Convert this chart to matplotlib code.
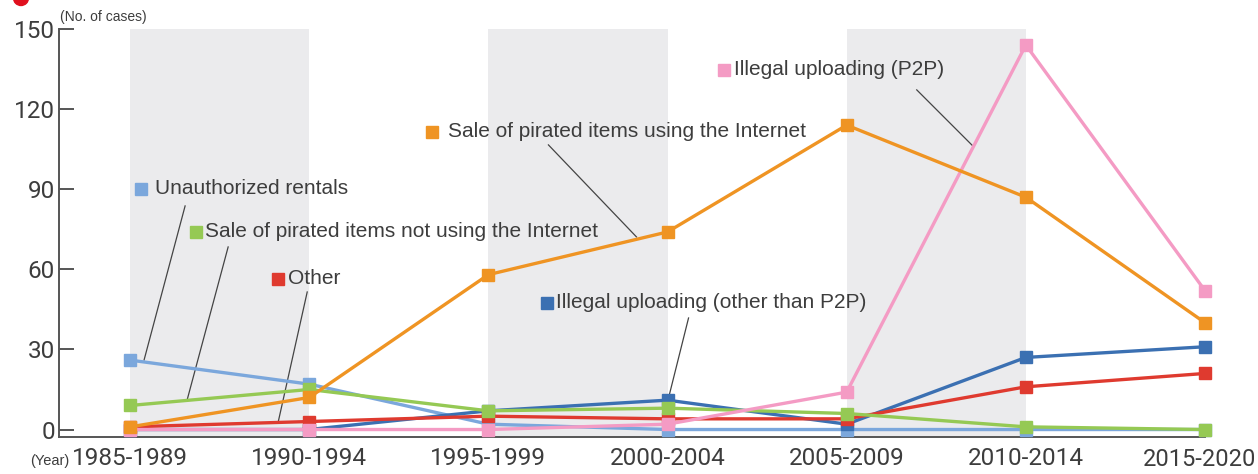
import matplotlib
matplotlib.use("Agg")
import matplotlib.pyplot as plt
from matplotlib.patches import Circle
from matplotlib.transforms import ScaledTranslation

periods = ["1985-1989", "1990-1994", "1995-1999", "2000-2004",
           "2005-2009", "2010-2014", "2015-2020"]

unauthorized_rentals = [26, 17, 2, 0, 0, 0, 0]
upload_other = [0, 0, 7, 11, 2, 27, 31]
other = [1, 3, 5, 4, 4, 16, 21]
sale_offline = [9, 15, 7, 8, 6, 1, 0]
upload_p2p = [0, 0, 0, 2, 14, 144, 52]
sale_online = [1, 12, 58, 74, 114, 87, 40]

y_ticks = [0, 30, 60, 90, 120, 150]

C_RENT = "#7ba7dc"
C_UPOTHER = "#3b70b2"
C_OTHER = "#df3a2f"
C_OFFLINE = "#95c954"
C_P2P = "#f49bc4"
C_ONLINE = "#ef9423"
TXT = "#3d3d3d"

W, H = 1258, 474
fig = plt.figure(figsize=(W / 100, H / 100), dpi=100)
ax = fig.add_axes([59 / W, 1 - 437 / H, (1205 - 59) / W, (437 - 29) / H])

x = list(range(len(periods)))

# shaded bands
for i in (0, 2, 4):
    ax.axvspan(x[i], x[i + 1], color="#ebebed", lw=0, zorder=0)

series = [
    (unauthorized_rentals, C_RENT),
    (upload_other, C_UPOTHER),
    (other, C_OTHER),
    (sale_offline, C_OFFLINE),
    (upload_p2p, C_P2P),
    (sale_online, C_ONLINE),
]
for k, (vals, col) in enumerate(series):
    ax.plot(x, vals, color=col, lw=2.4, marker="s", ms=8.5, mec=col,
            mfc=col, clip_on=False, zorder=3 + k)

ax.set_xlim(-71 / 179, 6)
ax.set_ylim(-2.8, 150)
ax.set_yticks(y_ticks)
ax.set_xticks(x)
# last label is drawn by hand, nudged left so it stays inside the picture
ax.set_xticklabels(periods[:-1] + [""])

narrow = ["Roboto", "DejaVu Sans"]
for lab in ax.get_xticklabels() + ax.get_yticklabels():
    lab.set_family(narrow)
    lab.set_fontsize(17.5)
    lab.set_color(TXT)

ax.text(x[-1], 0, periods[-1], fontsize=17, color=TXT, family=narrow,
        ha="center", va="top",
        transform=ax.get_xaxis_transform() + ScaledTranslation(-0.05, -0.115, fig.dpi_scale_trans))

for s in ("top", "right"):
    ax.spines[s].set_visible(False)
for s in ("left", "bottom"):
    ax.spines[s].set_color("#555555")
    ax.spines[s].set_linewidth(1.4)
ax.tick_params(axis="y", direction="in", length=11, width=1.4, color="#555555", pad=3)
ax.tick_params(axis="x", direction="in", length=6.5, width=1.4, color="#555555", pad=7)

# labels with leader lines (pixel layout -> data coords)
def px(xp, yp):
    return ((xp - 130) / 179, (429.5 - yp) / 2.669)

labels = [
    ("Unauthorized rentals", C_RENT, (141, 189), 14, (185, 206), (144, 360)),
    ("Sale of pirated items not using the Internet", C_OFFLINE, (196, 232), 9, (228, 247), (187, 400)),
    ("Other", C_OTHER, (278, 279), 10, (307, 292), (278, 422)),
    ("Sale of pirated items using the Internet", C_ONLINE, (432, 132), 16, (548, 145), (636, 237)),
    ("Illegal uploading (other than P2P)", C_UPOTHER, (547, 303), 9, (688, 318), (668, 398)),
    ("Illegal uploading (P2P)", C_P2P, (723, 70), 10, (916, 90), (972, 146)),
]
for text, col, sq, gap, l0, l1 in labels:
    a, b = px(*l0)
    c, d = px(*l1)
    ax.plot([a, c], [b, d], color="#444444", lw=0.9, zorder=2)
    sx, sy = px(*sq)
    ax.plot([sx], [sy], marker="s", ms=9, color=col, zorder=10, clip_on=False)
    ax.text(sx + gap / 179, sy, text, fontsize=15, color=TXT,
            family=["Liberation Sans", "DejaVu Sans"], va="center", ha="left", zorder=10)

fig.text(60 / W, 1 - 17 / H, "(No. of cases)", fontsize=10, color=TXT,
         family=["Liberation Sans", "DejaVu Sans"], va="center", ha="left")
fig.text(30 / W, 1 - 461 / H, "(Year)", fontsize=10.5, color=TXT,
         family=["Liberation Sans", "DejaVu Sans"], va="center", ha="left")

# cut-off red bullet at the top-left corner
fig.patches.append(Circle((0.21, (H + 2) / 100), 0.075, transform=fig.dpi_scale_trans,
                          color="#e0101e", clip_on=False))

fig.savefig("out.png", dpi=100)
